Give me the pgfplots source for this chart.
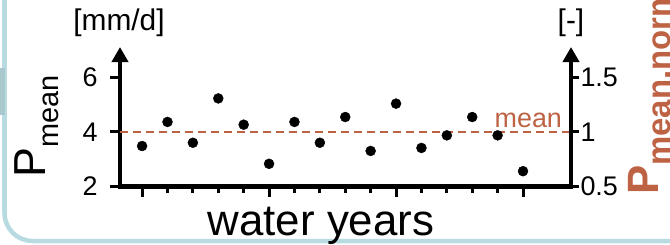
\documentclass[border=0pt]{standalone}
\usepackage{pgfplots}
\pgfplotsset{compat=1.18}
\usepackage{fontspec}
\setmainfont{Liberation Sans}
\usetikzlibrary{arrows.meta}
\definecolor{brn}{RGB}{190,98,68}
\definecolor{panel}{RGB}{183,219,225}
\definecolor{panelB}{RGB}{168,200,206}

\pgfplotstableread{
i val
0 3.48
1 4.36
2 3.60
3 5.22
4 4.26
5 2.83
6 4.36
7 3.60
8 4.54
9 3.30
10 5.03
11 3.41
12 3.87
13 4.54
14 3.87
15 2.56
}\pdata

\begin{document}
\begin{tikzpicture}[x=1bp,y=1bp]
\useasboundingbox (0,0) rectangle (670,244);
\draw[panel, line width=4.5bp, rounded corners=28bp] (4.5,320) -- (4.5,3) -- (720,3);
\fill[panelB] (0,129) rectangle (5,176);

\begin{axis}[
  at={(120bp,57.5bp)}, anchor=south west,
  scale only axis, width=451bp, height=139.5bp,
  xmin=-0.87, xmax=16.89, ymin=2, ymax=7.1,
  clip=false,
  axis x line*=bottom, axis y line*=left,
  x axis line style={-, line width=4.5bp, line cap=rect},
  y axis line style={-{Triangle[width=16bp,length=15bp]}, line width=4.5bp},
  tick align=outside,
  major tick length=10bp, minor tick length=6.5bp,
  every tick/.style={black, line width=3bp},
  xtick={0,5,10,15},
  minor xtick={1,2,3,4,6,7,8,9,11,12,13,14},
  xticklabels={},
  ytick={2,4,6},
  ytick pos=left,
  /pgf/number format/assume math mode=true,
  tick label style={font=\fontsize{27}{27}\selectfont, black},
  yticklabel style={xshift=-9bp},
]
\addplot[brn, line width=2bp, dash pattern=on 8bp off 5bp] coordinates {(-0.87,4) (16.89,4)};
\addplot[only marks, mark=*, mark size=5bp, black] table[x=i, y=val] {\pdata};
\node[anchor=base east, inner sep=0, text=brn, font=\fontsize{27}{27}\selectfont, yshift=4bp] at (axis cs:16.54,4) {mean};
\end{axis}

\begin{axis}[
  at={(120bp,57.5bp)}, anchor=south west,
  scale only axis, width=451bp, height=139.5bp,
  xmin=-0.87, xmax=16.89, ymin=0.5, ymax=1.775,
  clip=false,
  axis x line=none, axis y line*=right,
  y axis line style={-{Triangle[width=16bp,length=15bp]}, line width=4.5bp},
  tick align=outside,
  major tick length=8bp,
  every tick/.style={black, line width=3bp},
  ytick={0.5,1,1.5},
  yticklabels={0.5,1,1.5},
  tick label style={font=\fontsize{27}{27}\selectfont, black},
  yticklabel style={xshift=-2bp},
]
\addplot[draw=none] coordinates {(0,1)};
\end{axis}

\node[rotate=90, anchor=base west, inner sep=0] at (45,66) {\fontsize{45}{45}\selectfont P\raisebox{-13bp}{\fontsize{29}{29}\selectfont mean}};
\node[rotate=90, anchor=base west, inner sep=0, text=brn] at (658,49) {\fontsize{44}{44}\selectfont\bfseries P\raisebox{-12bp}{\fontsize{33}{33}\selectfont\bfseries mean.norm}};
\node[anchor=base, inner sep=0] at (321,9) {\fontsize{44}{44}\selectfont water years};
\node[anchor=base, inner sep=0] at (119,214) {\fontsize{30}{30}\selectfont [mm/d]};
\node[anchor=base, inner sep=0] at (571,214) {\fontsize{30}{30}\selectfont [-]};
\end{tikzpicture}
\end{document}
